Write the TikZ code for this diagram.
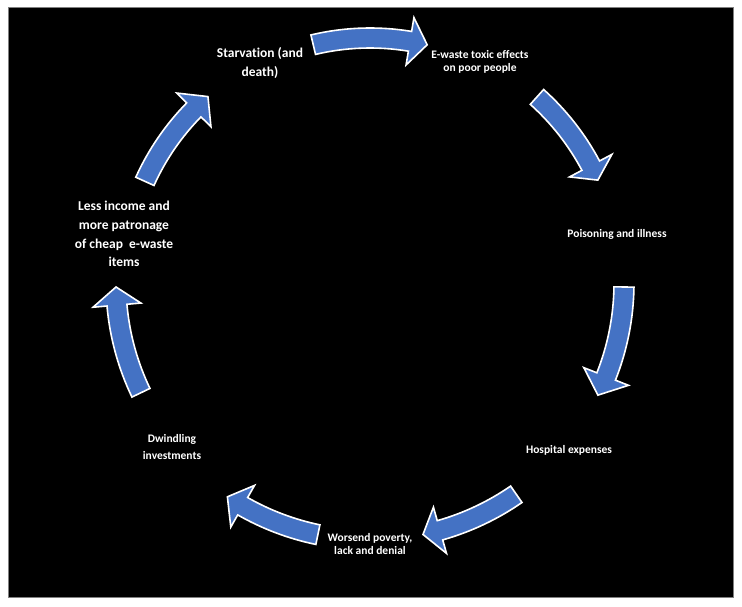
\documentclass[tikz,border=0pt]{standalone}
\usepackage{fontspec}
\setmainfont{Carlito}[Ligatures=NoCommon]
\definecolor{cycblue}{HTML}{4472C4}
\definecolor{frame}{HTML}{808080}
\tikzset{
  cycarrow/.style={fill=cycblue, draw=white, line width=1.6pt, line join=miter},
  lblA/.style={text=white, font=\fontsize{13.5}{18.7}\selectfont\bfseries, align=center, inner sep=0pt},
  lblB/.style={text=white, font=\fontsize{11.5}{13}\selectfont\bfseries, align=center, inner sep=0pt}
}
% tail angle, barb angle, tip angle, radius
\newcommand{\cycarr}[4]{%
  \pgfmathsetmacro\cro{#4+10}\pgfmathsetmacro\cri{#4-10}%
  \pgfmathsetmacro\cho{#4+24}\pgfmathsetmacro\chi{#4-24}%
  \draw[cycarrow, shift={(370pt,323pt)}] (#1:\cro pt) arc[start angle=#1, end angle=#2, radius=\cro pt]
    -- (#2:\cho pt) -- (#3:#4 pt) -- (#2:\chi pt) -- (#2:\cri pt)
    arc[start angle=#2, end angle=#1, radius=\cri pt] -- cycle;}
\begin{document}
\begin{tikzpicture}[x=1pt,y=1pt]
\useasboundingbox (0,0) rectangle (742,606);
\fill[white] (0,0) rectangle (742,606);
\draw[frame, fill=black, line width=1pt] (8,9) rectangle (733,598);
% arrows
\cycarr{155.7}{135.5}{131}{247}
\cycarr{103.4}{80.6}{76.5}{245}
\cycarr{48.1}{28}{24.3}{250}
\cycarr{-0.9}{-21.6}{-26.2}{254}
\cycarr{-55.3}{-74.2}{-78.1}{257}
\cycarr{-101.7}{-119.7}{-123.7}{257}
\cycarr{205.6}{185}{180.9}{254}
% labels
\node[lblA] (starv) at (260,543) {Starvation (and\\death)};
\node[lblB, font=\fontsize{11.5}{12.5}\selectfont\bfseries] (ewaste) at (480,544) {E-waste toxic effects\\on poor people};
\node[lblB] (poison) at (617,372) {Poisoning and illness};
\node[lblB] (hosp) at (569,156) {Hospital expenses};
\node[lblB] (worse) at (370,62) {Worsend poverty,\\lack and denial};
\node[lblB, font=\fontsize{11.5}{17}\selectfont\bfseries] (dwind) at (172,158.5) {Dwindling\\investments};
\node[lblA] (less) at (124,372) {Less income and\\more patronage\\of cheap\ \ e-waste\\items};
\end{tikzpicture}
\end{document}
